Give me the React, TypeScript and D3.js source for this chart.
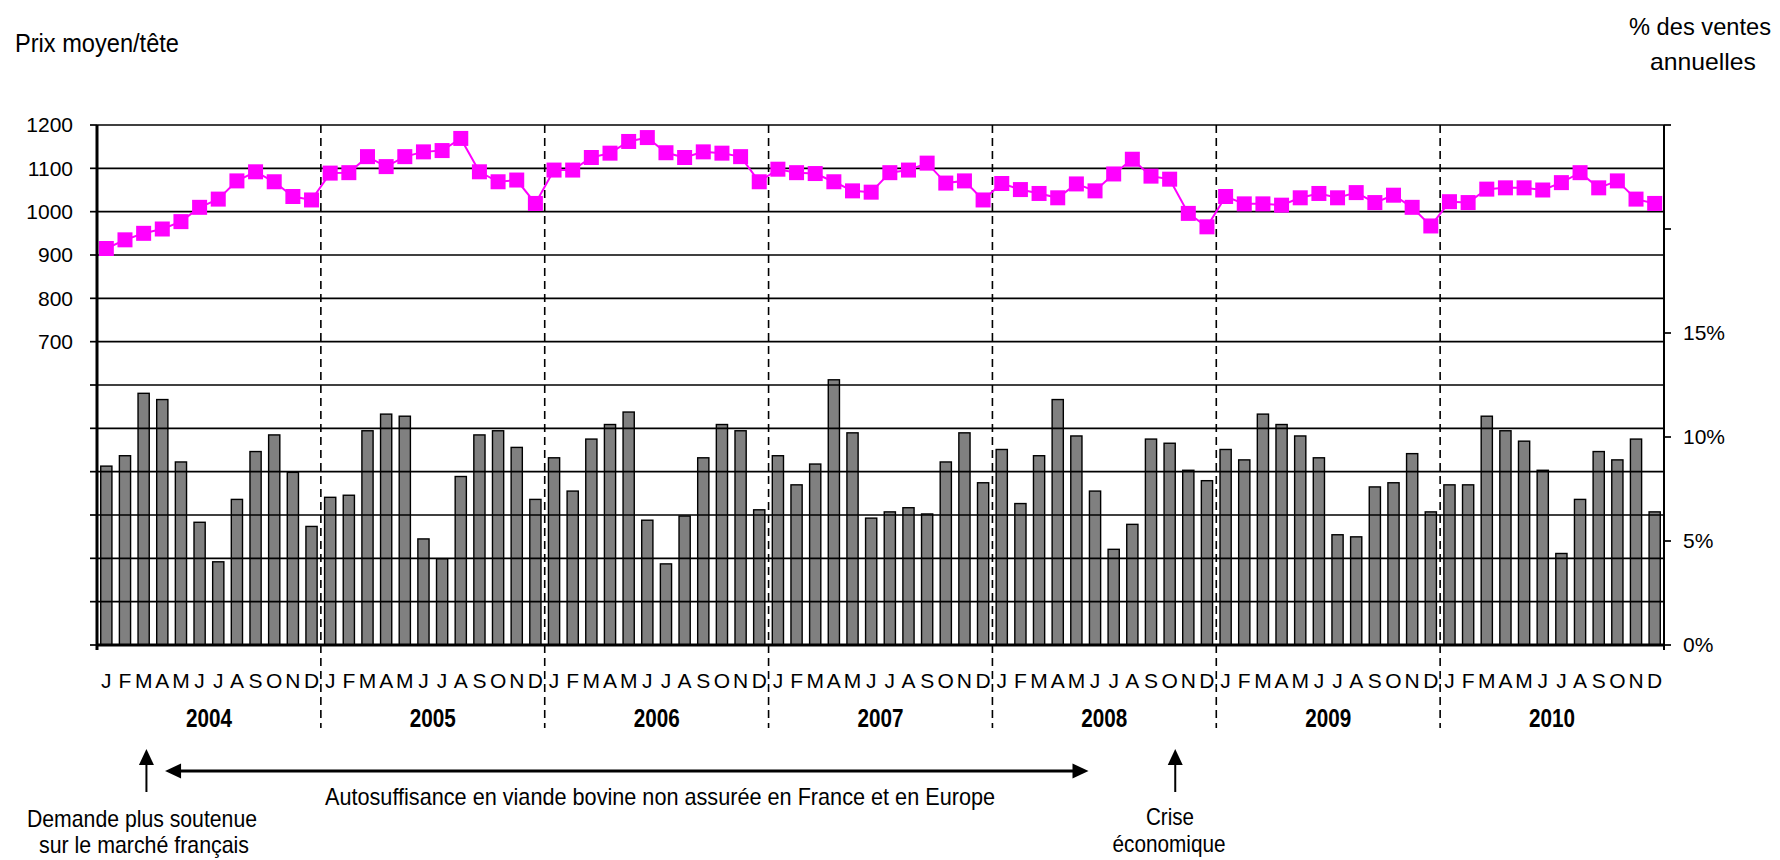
import React from 'react';
import * as d3 from 'd3';

// ---- Data ----
const YEARS = ['2004', '2005', '2006', '2007', '2008', '2009', '2010'];
const MONTH_LETTERS = ['J', 'F', 'M', 'A', 'M', 'J', 'J', 'A', 'S', 'O', 'N', 'D'];
const LEFT_TICK_LABELS = [700, 800, 900, 1000, 1100, 1200];
const RIGHT_TICK_LABELS = [0, 5, 10, 15];
const RIGHT_TICKS = [0, 5, 10, 15, 20, 25];

// Prix moyen / tête (left axis)
const price2004 = [915, 935, 950, 960, 977, 1010, 1029, 1071, 1092, 1069, 1035, 1027];
const price2005 = [1089, 1090, 1127, 1104, 1127, 1138, 1141, 1169, 1092, 1069, 1073, 1019];
const price2006 = [1096, 1096, 1125, 1135, 1162, 1171, 1136, 1125, 1138, 1135, 1127, 1069];
const price2007 = [1098, 1090, 1088, 1069, 1048, 1045, 1090, 1096, 1112, 1066, 1071, 1027];
const price2008 = [1065, 1051, 1042, 1032, 1064, 1048, 1087, 1121, 1082, 1075, 996, 965];
const price2009 = [1035, 1018, 1018, 1015, 1032, 1042, 1032, 1044, 1021, 1038, 1010, 967];
const price2010 = [1023, 1021, 1052, 1055, 1055, 1050, 1067, 1090, 1055, 1071, 1029, 1019];

// % des ventes annuelles (right axis)
const share2004 = [8.6, 9.1, 12.1, 11.8, 8.8, 5.9, 4.0, 7.0, 9.3, 10.1, 8.3, 5.7];
const share2005 = [7.1, 7.2, 10.3, 11.1, 11.0, 5.1, 4.15, 8.1, 10.1, 10.3, 9.5, 7.0];
const share2006 = [9.0, 7.4, 9.9, 10.6, 11.2, 6.0, 3.9, 6.2, 9.0, 10.6, 10.3, 6.5];
const share2007 = [9.1, 7.7, 8.7, 12.75, 10.2, 6.1, 6.4, 6.6, 6.3, 8.8, 10.2, 7.8];
const share2008 = [9.4, 6.8, 9.1, 11.8, 10.05, 7.4, 4.6, 5.8, 9.9, 9.7, 8.4, 7.9];
const share2009 = [9.4, 8.9, 11.1, 10.6, 10.05, 9.0, 5.3, 5.2, 7.6, 7.8, 9.2, 6.4];
const share2010 = [7.7, 7.7, 11.0, 10.3, 9.8, 8.4, 4.4, 7.0, 9.3, 8.9, 9.9, 6.4];

const PRICES = [price2004, price2005, price2006, price2007, price2008, price2009, price2010].flat();
const SHARES = [share2004, share2005, share2006, share2007, share2008, share2009, share2010].flat();

// Annotations (positions in month units along the x axis)
const ARROW_DEMANDE_MONTH = 2.65;
const ARROW_CRISE_MONTH = 57.8;
const SPAN_START_MONTH = 3.65;
const SPAN_END_MONTH = 53.15;

const FONT = "'Liberation Sans', Arial, Helvetica, sans-serif";

export default function App() {
  const W = 1780;
  const H = 860;
  const x0 = 97;
  const x1 = 1664;
  const yTop = 125;
  const yBase = 645;
  const n = PRICES.length;

  const xBand = d3
    .scaleBand<number>()
    .domain(d3.range(n))
    .range([x0, x1])
    .paddingInner(0.4)
    .paddingOuter(0.2);
  const xPos = d3.scaleLinear().domain([0, n]).range([x0, x1]);
  const cx = (i: number) => xPos(i + 0.5);
  const yL = d3.scaleLinear().domain([0, 1200]).range([yBase, yTop]);
  const yR = d3.scaleLinear().domain([0, 25]).range([yBase, yTop]);

  const linePath = d3
    .line<number>()
    .x((_, i) => cx(i))
    .y((d) => yL(d))(PRICES) as string;

  const gridVals = d3.range(100, 1201, 100);
  const leftTickVals = d3.range(0, 1201, 100);
  const yearBounds = d3.range(1, YEARS.length).map((k) => xPos(k * 12));

  const mk = 15;

  const upArrow = (x: number, key: string) => (
    <g key={key}>
      <line x1={x} x2={x} y1={792} y2={762} stroke="#000" strokeWidth={2} />
      <path d={`M${x},749 L${x - 7.5},765 L${x + 7.5},765 Z`} fill="#000" />
    </g>
  );

  const sx = xPos(SPAN_START_MONTH);
  const ex = xPos(SPAN_END_MONTH);
  const ay = 771;

  return (
    <svg
      width={W}
      height={H}
      viewBox={`0 0 ${W} ${H}`}
      style={{ position: 'absolute', left: 0, top: 0, background: '#fff' }}
      fontFamily={FONT}
    >
      <rect x={0} y={0} width={W} height={H} fill="#fff" />

      {/* Bars */}
      {SHARES.map((v, i) => (
        <rect
          key={'b' + i}
          x={xBand(i)}
          y={yR(v)}
          width={xBand.bandwidth()}
          height={yBase - yR(v)}
          fill="#808080"
          stroke="#000"
          strokeWidth={1.4}
        />
      ))}

      {/* Horizontal gridlines */}
      {gridVals.map((v) => (
        <line key={'g' + v} x1={x0} x2={x1} y1={yL(v)} y2={yL(v)} stroke="#000" strokeWidth={1.7} />
      ))}

      {/* Year dividers */}
      {yearBounds.map((x, k) => (
        <line
          key={'d' + k}
          x1={x}
          x2={x}
          y1={yTop}
          y2={728}
          stroke="#000"
          strokeWidth={1.6}
          strokeDasharray="8,5"
        />
      ))}

      {/* Price line */}
      <path d={linePath} fill="none" stroke="#FF00FF" strokeWidth={2} />
      {PRICES.map((v, i) => (
        <rect key={'m' + i} x={cx(i) - mk / 2} y={yL(v) - mk / 2} width={mk} height={mk} fill="#FF00FF" />
      ))}

      {/* Axes lines */}
      <line x1={x0} x2={x0} y1={yTop} y2={650} stroke="#000" strokeWidth={3} />
      <line x1={x1} x2={x1} y1={yTop} y2={650} stroke="#000" strokeWidth={2} />
      <line x1={x0 - 1} x2={x1 + 1} y1={yBase} y2={yBase} stroke="#000" strokeWidth={3} />

      {/* Left ticks */}
      {leftTickVals.map((v) => (
        <line key={'lt' + v} x1={x0 - 7} x2={x0} y1={yL(v)} y2={yL(v)} stroke="#000" strokeWidth={1.7} />
      ))}
      {LEFT_TICK_LABELS.map((v) => (
        <text key={'ll' + v} x={73} y={yL(v)} dy="0.35em" textAnchor="end" fontSize={21} fill="#000">
          {v}
        </text>
      ))}

      {/* Right ticks */}
      {RIGHT_TICKS.map((v) => (
        <line key={'rt' + v} x1={x1} x2={x1 + 7} y1={yR(v)} y2={yR(v)} stroke="#000" strokeWidth={1.7} />
      ))}
      {RIGHT_TICK_LABELS.map((v) => (
        <text key={'rl' + v} x={1683} y={yR(v)} dy="0.35em" textAnchor="start" fontSize={21} fill="#000">
          {v + '%'}
        </text>
      ))}

      {/* Month letters */}
      {d3.range(n).map((i) => (
        <text key={'ml' + i} x={cx(i)} y={688} textAnchor="middle" fontSize={21} fill="#000">
          {MONTH_LETTERS[i % 12]}
        </text>
      ))}

      {/* Year labels */}
      {YEARS.map((y, k) => (
        <text
          key={'y' + y}
          x={xPos(k * 12 + 6)}
          y={727}
          textAnchor="middle"
          fontSize={25}
          fontWeight="bold"
          textLength={46}
          lengthAdjust="spacingAndGlyphs"
          fill="#000"
        >
          {y}
        </text>
      ))}

      {/* Axis titles */}
      <text x={15} y={52} fontSize={25} textLength={164} lengthAdjust="spacingAndGlyphs" fill="#000">
        Prix moyen/tête
      </text>
      <text x={1700} y={35} textAnchor="middle" fontSize={23} textLength={142} lengthAdjust="spacingAndGlyphs" fill="#000">
        % des ventes
      </text>
      <text x={1703} y={70} textAnchor="middle" fontSize={24} textLength={106} lengthAdjust="spacingAndGlyphs" fill="#000">
        annuelles
      </text>

      {/* Annotations */}
      {upArrow(xPos(ARROW_DEMANDE_MONTH), 'a1')}
      {upArrow(xPos(ARROW_CRISE_MONTH), 'a2')}
      <line x1={sx + 12} x2={ex - 12} y1={ay} y2={ay} stroke="#000" strokeWidth={3} />
      <path d={`M${sx},${ay} L${sx + 16},${ay - 7.5} L${sx + 16},${ay + 7.5} Z`} fill="#000" />
      <path d={`M${ex},${ay} L${ex - 16},${ay - 7.5} L${ex - 16},${ay + 7.5} Z`} fill="#000" />

      <text x={325} y={805} fontSize={24} textLength={670} lengthAdjust="spacingAndGlyphs" fill="#000">
        Autosuffisance en viande bovine non assurée en France et en Europe
      </text>
      <text x={142} y={827} textAnchor="middle" fontSize={24} textLength={230} lengthAdjust="spacingAndGlyphs" fill="#000">
        Demande plus soutenue
      </text>
      <text x={144} y={853} textAnchor="middle" fontSize={24} textLength={210} lengthAdjust="spacingAndGlyphs" fill="#000">
        sur le marché français
      </text>
      <text x={1170} y={825} textAnchor="middle" fontSize={24} textLength={48} lengthAdjust="spacingAndGlyphs" fill="#000">
        Crise
      </text>
      <text x={1169} y={852} textAnchor="middle" fontSize={24} textLength={113} lengthAdjust="spacingAndGlyphs" fill="#000">
        économique
      </text>
    </svg>
  );
}
